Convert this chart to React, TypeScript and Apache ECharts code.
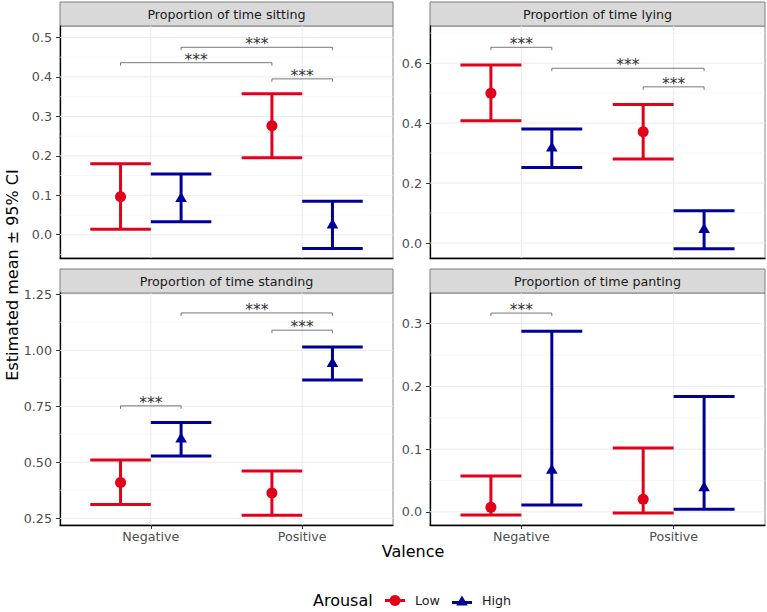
import React, { useEffect, useRef } from "react";
import * as echarts from "echarts";

const FONT = "DejaVu Sans";
const RED = "#E3001B";
const BLUE = "#000099";

const categories = ["Negative", "Positive"];
const panelTitles = [
  "Proportion of time sitting",
  "Proportion of time lying",
  "Proportion of time standing",
  "Proportion of time panting",
];

// [mean, lower, upper] for Negative, Positive
const sittingLow = [[0.096, 0.014, 0.180], [0.276, 0.195, 0.357]];
const sittingHigh = [[0.091, 0.033, 0.154], [0.024, -0.035, 0.085]];
const lyingLow = [[0.500, 0.408, 0.594], [0.371, 0.280, 0.462]];
const lyingHigh = [[0.316, 0.252, 0.380], [0.044, -0.019, 0.108]];
const standingLow = [[0.410, 0.311, 0.510], [0.363, 0.263, 0.461]];
const standingHigh = [[0.603, 0.528, 0.678], [0.940, 0.868, 1.015]];
const pantingLow = [[0.0074, -0.005, 0.057], [0.020, -0.002, 0.102]];
const pantingHigh = [[0.066, 0.011, 0.288], [0.038, 0.004, 0.184]];

// y tick labels
const sittingTicks = [0, 0.1, 0.2, 0.3, 0.4, 0.5];
const lyingTicks = [0, 0.2, 0.4, 0.6];
const standingTicks = [0.25, 0.5, 0.75, 1.0, 1.25];
const pantingTicks = [0, 0.1, 0.2, 0.3];

// y ranges
const sittingRange = [-0.059, 0.529];
const lyingRange = [-0.05, 0.724];
const standingRange = [0.22, 1.256];
const pantingRange = [-0.021, 0.349];

// significance brackets: [fromValence, fromArousal, toValence, toArousal, y, label]
const sittingBrackets = [
  ["Negative", "Low", "Positive", "Low", 0.436, "***"],
  ["Negative", "High", "Positive", "High", 0.475, "***"],
  ["Positive", "Low", "Positive", "High", 0.395, "***"],
];
const lyingBrackets = [
  ["Negative", "Low", "Negative", "High", 0.653, "***"],
  ["Negative", "High", "Positive", "High", 0.583, "***"],
  ["Positive", "Low", "Positive", "High", 0.521, "***"],
];
const standingBrackets = [
  ["Negative", "Low", "Negative", "High", 0.752, "***"],
  ["Negative", "High", "Positive", "High", 1.167, "***"],
  ["Positive", "Low", "Positive", "High", 1.09, "***"],
];
const pantingBrackets = [["Negative", "Low", "Negative", "High", 0.317, "***"]];

const panels = [
  { low: sittingLow, high: sittingHigh, ticks: sittingTicks, range: sittingRange, brackets: sittingBrackets, dec: 1 },
  { low: lyingLow, high: lyingHigh, ticks: lyingTicks, range: lyingRange, brackets: lyingBrackets, dec: 1 },
  { low: standingLow, high: standingHigh, ticks: standingTicks, range: standingRange, brackets: standingBrackets, dec: 2 },
  { low: pantingLow, high: pantingHigh, ticks: pantingTicks, range: pantingRange, brackets: pantingBrackets, dec: 1 },
];

const gridBoxes = [
  { left: 60, top: 26, width: 333, height: 232 },
  { left: 430, top: 26, width: 335, height: 232 },
  { left: 60, top: 293, width: 333, height: 232 },
  { left: 430, top: 293, width: 335, height: 232 },
];
const STRIP_H = 24;
const DODGE = 0.2;
const CAP_HALF = 0.2;
const SMALL = 12.7;
const TITLE = 16;

function xPos(cat: string, ar: string) {
  return categories.indexOf(cat) + 1 + (ar === "Low" ? -DODGE : DODGE);
}

function errorBarRenderer(color: string, shape: string) {
  return (params: any, api: any) => {
    const x = api.value(0);
    const lo = api.value(1);
    const hi = api.value(2);
    const m = api.value(3);
    const pHi = api.coord([x, hi]);
    const pLo = api.coord([x, lo]);
    const pM = api.coord([x, m]);
    const xl = api.coord([x - CAP_HALF, lo])[0];
    const xr = api.coord([x + CAP_HALF, lo])[0];
    const ls = { stroke: color, lineWidth: 3 };
    const marker =
      shape === "circle"
        ? { type: "circle", shape: { cx: pM[0], cy: pM[1], r: 5.5 }, style: { fill: color } }
        : {
            type: "polygon",
            shape: {
              points: [
                [pM[0], pM[1] - 6.7],
                [pM[0] + 5.8, pM[1] + 3.3],
                [pM[0] - 5.8, pM[1] + 3.3],
              ],
            },
            style: { fill: color },
          };
    return {
      type: "group",
      children: [
        { type: "line", shape: { x1: pHi[0], y1: pHi[1], x2: pLo[0], y2: pLo[1] }, style: ls },
        { type: "line", shape: { x1: xl, y1: pHi[1], x2: xr, y2: pHi[1] }, style: ls },
        { type: "line", shape: { x1: xl, y1: pLo[1], x2: xr, y2: pLo[1] }, style: ls },
        marker,
      ],
    };
  };
}

function App() {
  const ref = useRef<HTMLDivElement>(null);
  useEffect(() => {
    if (!ref.current) return;
    const chart = echarts.init(ref.current, null, { renderer: "svg" });

    const series: any[] = [];
    panels.forEach((p, i) => {
      const step = p.ticks[1] - p.ticks[0];
      const minors = p.ticks
        .map((t) => t - step / 2)
        .concat([p.ticks[p.ticks.length - 1] + step / 2])
        .filter((v) => v > p.range[0] && v < p.range[1]);
      const gridData = [
        ...minors.map((v) => [1, v]),
        ...p.ticks.map((v) => [0, v]),
        ...categories.map((_, k) => [2, k + 1]),
      ];
      series.push({
        type: "custom",
        xAxisIndex: i,
        yAxisIndex: i,
        silent: true,
        z: 1,
        data: gridData,
        renderItem: (params: any, api: any) => {
          const cs = params.coordSys;
          const kind = api.value(0);
          const v = api.value(1);
          if (kind === 2) {
            const x = api.coord([v, p.range[0]])[0];
            return {
              type: "line",
              shape: { x1: x, y1: cs.y, x2: x, y2: cs.y + cs.height },
              style: { stroke: "#EBEBEB", lineWidth: 1 },
            };
          }
          const y = api.coord([1, v])[1];
          return {
            type: "line",
            shape: { x1: cs.x, y1: y, x2: cs.x + cs.width, y2: y },
            style: { stroke: kind === 0 ? "#EBEBEB" : "#F4F4F4", lineWidth: kind === 0 ? 1 : 0.6 },
          };
        },
      });
      series.push({
        name: "Low",
        type: "custom",
        xAxisIndex: i,
        yAxisIndex: i,
        z: 3,
        itemStyle: { color: RED },
        data: categories.map((c, k) => [xPos(c, "Low"), p.low[k][1], p.low[k][2], p.low[k][0]]),
        renderItem: errorBarRenderer(RED, "circle"),
      });
      series.push({
        name: "High",
        type: "custom",
        xAxisIndex: i,
        yAxisIndex: i,
        z: 3,
        itemStyle: { color: BLUE },
        data: categories.map((c, k) => [xPos(c, "High"), p.high[k][1], p.high[k][2], p.high[k][0]]),
        renderItem: errorBarRenderer(BLUE, "triangle"),
      });
      series.push({
        type: "custom",
        xAxisIndex: i,
        yAxisIndex: i,
        z: 4,
        silent: true,
        data: p.brackets.map((b: any) => [xPos(b[0], b[1]), xPos(b[2], b[3]), b[4]]),
        renderItem: (params: any, api: any) => {
          const a = api.coord([api.value(0), api.value(2)]);
          const b = api.coord([api.value(1), api.value(2)]);
          const label = (p.brackets[params.dataIndex] as any)[5];
          return {
            type: "group",
            children: [
              {
                type: "polyline",
                shape: { points: [[a[0], a[1] + 3], [a[0], a[1]], [b[0], b[1]], [b[0], b[1] + 3]] },
                style: { stroke: "#555555", lineWidth: 0.8, fill: "none" },
              },
              {
                type: "text",
                style: {
                  text: label,
                  x: (a[0] + b[0]) / 2,
                  y: a[1] - 3,
                  align: "center",
                  verticalAlign: "middle",
                  fontSize: 15.5,
                  fontFamily: FONT,
                  fill: "#333333",
                },
              },
            ],
          };
        },
      });
    });

    const graphic: any[] = [];
    gridBoxes.forEach((g, i) => {
      graphic.push({
        type: "rect",
        shape: { x: g.left, y: g.top - STRIP_H, width: g.width, height: STRIP_H },
        style: { fill: "#D9D9D9", stroke: "#7F7F7F", lineWidth: 1 },
        silent: true,
      });
      graphic.push({
        type: "text",
        x: g.left + g.width / 2,
        y: g.top - STRIP_H / 2,
        style: {
          text: panelTitles[i],
          align: "center",
          verticalAlign: "middle",
          fontSize: SMALL,
          fontFamily: FONT,
          fill: "#1A1A1A",
        },
        silent: true,
      });
    });
    graphic.push({
      type: "text",
      x: 12,
      y: 275,
      rotation: Math.PI / 2,
      style: {
        text: "Estimated mean ± 95% CI",
        align: "center",
        verticalAlign: "middle",
        fontSize: TITLE,
        fontFamily: FONT,
        fill: "#000",
      },
    });
    graphic.push({
      type: "text",
      x: 413,
      y: 551,
      style: { text: "Valence", align: "center", verticalAlign: "middle", fontSize: TITLE, fontFamily: FONT, fill: "#000" },
    });
    graphic.push({
      type: "text",
      x: 313,
      y: 600,
      style: { text: "Arousal", align: "left", verticalAlign: "middle", fontSize: TITLE, fontFamily: FONT, fill: "#000" },
    });

    const lowIcon = "path://M0,4.5 H20 V7.5 H0 Z M10,0.5 A5.5,5.5 0 1 1 9.99,0.5 Z";
    const highIcon = "path://M0,5.5 H20 V8.5 H0 Z M10,0 L15.8,10 L4.2,10 Z";

    chart.setOption({
      animation: false,
      backgroundColor: "#ffffff",
      textStyle: { fontFamily: FONT },
      grid: gridBoxes.map((g) => ({
        ...g,
        show: true,
        borderColor: "#8A8A8A",
        borderWidth: 1,
        backgroundColor: "#ffffff",
        containLabel: false,
      })),
      xAxis: panels.map((p, i) => ({
        type: "value",
        gridIndex: i,
        min: 0.4,
        max: 2.6,
        splitLine: { show: false },
        axisLine: { show: true, onZero: false, lineStyle: { color: "#000", width: 1.3 } },
        axisTick: { show: i >= 2, customValues: [1, 2], length: 4, lineStyle: { color: "#333" } },
        axisLabel: {
          show: i >= 2,
          customValues: [1, 2],
          formatter: (v: number) => categories[Math.round(v) - 1] ?? "",
          margin: 5,
          fontSize: SMALL,
          color: "#4D4D4D",
          fontFamily: FONT,
        },
      })),
      yAxis: panels.map((p, i) => ({
        type: "value",
        gridIndex: i,
        min: p.range[0],
        max: p.range[1],
        splitLine: { show: false },
        axisLine: { show: true, onZero: false, lineStyle: { color: "#000", width: 1.3 } },
        axisTick: { show: true, customValues: p.ticks, length: 4, lineStyle: { color: "#333" } },
        axisLabel: {
          customValues: p.ticks,
          formatter: (v: number) => v.toFixed(p.dec),
          margin: 8,
          fontSize: SMALL,
          color: "#4D4D4D",
          fontFamily: FONT,
        },
      })),
      legend: {
        left: 385,
        top: 594,
        padding: 0,
        itemWidth: 20,
        itemHeight: 12,
        itemGap: 12,
        selectedMode: false,
        textStyle: { fontSize: SMALL, color: "#1A1A1A", fontFamily: FONT, padding: [0, 0, 0, 5] },
        data: [
          { name: "Low", icon: lowIcon, itemStyle: { color: RED } },
          { name: "High", icon: highIcon, itemStyle: { color: BLUE } },
        ],
      },
      graphic,
      series,
    });
    return () => chart.dispose();
  }, []);
  return (
    <div
      ref={ref}
      style={{ position: "absolute", left: 0, top: 0, width: 767, height: 612 }}
    />
  );
}

export default App;
